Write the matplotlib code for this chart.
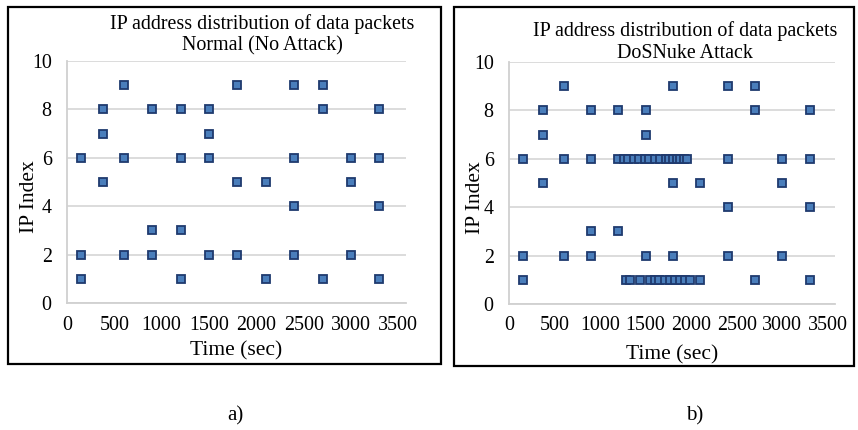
import matplotlib
matplotlib.use("Agg")
import matplotlib.pyplot as plt
from matplotlib.patches import Rectangle

plt.rcParams['font.family'] = ['Liberation Serif', 'DejaVu Serif']

# panel a) normal traffic
normal_time = [150, 150, 150, 375, 375, 375, 600, 600, 600, 900, 900, 900,
               1200, 1200, 1200, 1200, 1500, 1500, 1500, 1500, 1800, 1800, 1800,
               2100, 2100, 2400, 2400, 2400, 2400, 2700, 2700, 2700,
               3000, 3000, 3000, 3300, 3300, 3300, 3300]
normal_ip = [6, 2, 1, 8, 7, 5, 9, 6, 2, 8, 3, 2,
             8, 6, 3, 1, 8, 7, 6, 2, 9, 5, 2,
             5, 1, 9, 6, 4, 2, 9, 8, 1,
             6, 5, 2, 8, 6, 4, 1]

# panel b) DoSNuke attack
dos_time = [150, 150, 150, 375, 375, 375, 600, 600, 600, 900, 900, 900, 900,
            1200, 1200, 1500, 1500, 1500, 1800, 1800, 1800,
            2100, 2400, 2400, 2400, 2400, 2700, 2700, 2700,
            3000, 3000, 3000, 3300, 3300, 3300, 3300]
dos_ip = [6, 2, 1, 8, 7, 5, 9, 6, 2, 8, 6, 3, 2,
          8, 3, 8, 7, 2, 9, 5, 2,
          5, 9, 6, 4, 2, 9, 8, 1,
          6, 5, 2, 8, 6, 4, 1]
# burst of packets during the attack
burst6_time = [1200, 1260, 1310, 1370, 1430, 1490, 1540, 1600, 1660, 1720,
               1760, 1800, 1840, 1880, 1920, 1950]
burst1_time = [1280, 1330, 1440, 1550, 1600, 1650, 1710, 1770, 1820, 1880,
               1930, 1990, 2100]

title_line1 = "IP address distribution of data packets"
W, H = 858, 430
fig = plt.figure(figsize=(W / 100, H / 100), dpi=100)


def px_axes(l, t, r, b):
    return fig.add_axes([l / W, 1 - b / H, (r - l) / W, (b - t) / H])


def draw_panel(ax, xs, ys, ylab_x, xlab_y):
    ax.plot(xs, ys, linestyle="none", marker="s", markersize=6,
            markerfacecolor="#4A7EBB", markeredgecolor="#1F3A6E",
            markeredgewidth=1.3, zorder=3, clip_on=False)
    ax.set_xlim(0, 3580)
    ax.set_ylim(0, 10)
    ax.set_xticks(range(0, 3501, 500))
    ax.set_yticks(range(0, 11, 2))
    ax.grid(axis="y", color="#D9D9D9", linewidth=1.3)
    ax.set_axisbelow(True)
    for s in ["top", "right"]:
        ax.spines[s].set_visible(False)
    for s in ["left", "bottom"]:
        ax.spines[s].set_color("#D0D0D0")
        ax.spines[s].set_linewidth(1.3)
    ax.tick_params(length=0, labelsize=14.4)
    ax.tick_params(axis="y", pad=11)
    ax.tick_params(axis="x", pad=9)
    ax.set_xlabel("Time (sec)", fontsize=15.5)
    ax.set_ylabel("IP Index", fontsize=15.5)
    ax.xaxis.set_label_coords(0.5, xlab_y)
    ax.yaxis.set_label_coords(ylab_x, 0.44)


ax1 = px_axes(67, 61, 406, 303)
draw_panel(ax1, normal_time, normal_ip, -0.083, -0.157)
fig.text(262 / W, 1 - 24 / H, title_line1, ha="center", va="center", fontsize=14.4)
fig.text(262 / W, 1 - 46 / H, "Normal (No Attack)", ha="center", va="center", fontsize=14.4)

ax2 = px_axes(509, 62, 835, 304)
draw_panel(ax2, dos_time + burst6_time + burst1_time,
           dos_ip + [6] * len(burst6_time) + [1] * len(burst1_time), -0.073, -0.169)
fig.text(685 / W, 1 - 31 / H, title_line1, ha="center", va="center", fontsize=14.4)
fig.text(685 / W, 1 - 53 / H, "DoSNuke Attack", ha="center", va="center", fontsize=14.4)

# frames around the two panels
for l, t, r, b in [(8, 7, 441, 364), (454, 7, 854, 366)]:
    fig.add_artist(Rectangle((l / W, 1 - b / H), (r - l) / W, (b - t) / H,
                             transform=fig.transFigure, fill=False,
                             edgecolor="black", linewidth=1.6))

fig.text(235 / W, 1 - 416 / H, "a)", ha="center", va="center", fontsize=15)
fig.text(695 / W, 1 - 416 / H, "b)", ha="center", va="center", fontsize=15)

fig.savefig("out.png", dpi=100)
